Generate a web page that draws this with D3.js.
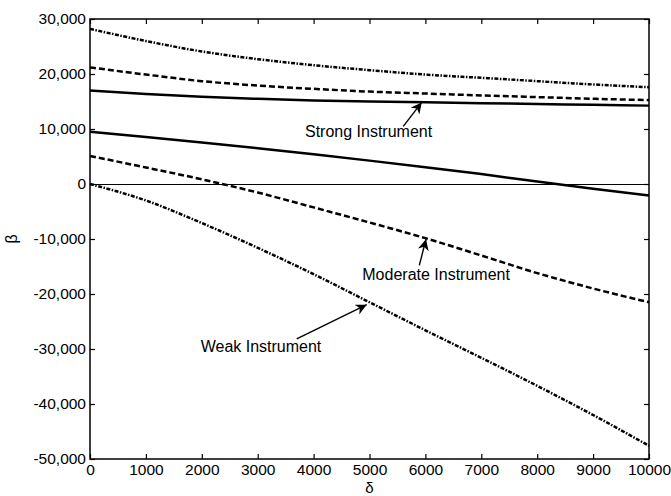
<!DOCTYPE html>
<html>
<head>
<meta charset="utf-8">
<script src="https://cdn.jsdelivr.net/npm/d3@7"></script>
<style>
  body { margin: 0; background: #fff; }
  text { font-family: "Liberation Sans", Arial, sans-serif; fill: #000; }
</style>
</head>
<body>
<script>
// delta values on the x axis
const delta = [0, 1000, 2000, 3000, 4000, 5000, 6000, 7000, 8000, 9000, 10000]

// beta bounds for each instrument strength (upper and lower)
const weakUpper = [28200, 26000, 24100, 22700, 21600, 20700, 19900, 19300, 18700, 18100, 17600]
const moderateUpper = [21200, 19900, 18700, 17900, 17300, 16800, 16450, 16100, 15800, 15500, 15250]
const strongUpper = [17000, 16350, 15850, 15500, 15200, 15000, 14850, 14700, 14550, 14400, 14250]
const strongLower = [9500, 8550, 7550, 6500, 5400, 4250, 3050, 1800, 450, -850, -2100]
const moderateLower = [5100, 3000, 850, -1550, -4250, -7000, -9850, -13000, -16200, -19000, -21500]
const weakLower = [0, -3000, -7100, -11600, -16400, -21500, -26600, -31600, -36700, -42000, -47600]

const xTicks = [0, 1000, 2000, 3000, 4000, 5000, 6000, 7000, 8000, 9000, 10000]
const yTicks = [-50000, -40000, -30000, -20000, -10000, 0, 10000, 20000, 30000]
const yTickLabels = ['-50,000', '-40,000', '-30,000', '-20,000', '-10,000', '0', '10,000', '20,000', '30,000']

const series = [
  { values: weakUpper, dash: '4,1.5,1.5,1.5' },
  { values: moderateUpper, dash: '6,3' },
  { values: strongUpper, dash: null },
  { values: strongLower, dash: null },
  { values: moderateLower, dash: '6,3' },
  { values: weakLower, dash: '4,1.5,1.5,1.5' }
]

// labels: text anchor and arrow from/to, in data units
const notes = [
  { text: 'Strong Instrument', at: [3846, 8470], from: [5604, 10470], to: [5934, 14835] },
  { text: 'Moderate Instrument', at: [4871, -17450], from: [5891, -14800], to: [6011, -10040] },
  { text: 'Weak Instrument', at: [1980, -30490], from: [3698, -28180], to: [4950, -21950] }
]

const width = 671, height = 496
const margin = { left: 90, right: 22, top: 19, bottom: 37 }
const w = width - margin.left - margin.right
const h = height - margin.top - margin.bottom

const svg = d3.select('body').append('svg').attr('width', width).attr('height', height)

svg.append('defs').append('marker')
  .attr('id', 'arrow')
  .attr('viewBox', '0 0 10 10')
  .attr('refX', 10).attr('refY', 5)
  .attr('markerWidth', 11).attr('markerHeight', 11)
  .attr('markerUnits', 'userSpaceOnUse')
  .attr('orient', 'auto')
  .append('path').attr('d', 'M0,0 L10,5 L0,10 L3,5 Z').attr('fill', '#000')

const x = d3.scaleLinear().domain([0, 10000]).range([0, w])
const y = d3.scaleLinear().domain([-50000, 30000]).range([h, 0])

const g = svg.append('g').attr('transform', `translate(${margin.left},${margin.top})`)

// zero line
g.append('line')
  .attr('x1', x(0)).attr('x2', x(10000))
  .attr('y1', y(0) + 0.5).attr('y2', y(0) + 0.5)
  .attr('stroke', '#000').attr('stroke-width', 1)

const line = d3.line()
  .x((d, i) => x(delta[i]))
  .y(d => y(d))
  .curve(d3.curveMonotoneX)

g.selectAll('.curve')
  .data(series)
  .enter().append('path')
  .attr('class', 'curve')
  .attr('d', d => line(d.values))
  .attr('fill', 'none')
  .attr('stroke', '#000')
  .attr('stroke-width', 2.5)
  .attr('stroke-dasharray', d => d.dash)

// axes with inward ticks
const xAxis = d3.axisBottom(x).tickValues(xTicks).tickFormat(d3.format('d'))
  .tickSizeInner(-5).tickSizeOuter(0).tickPadding(5)
const yAxis = d3.axisLeft(y).tickValues(yTicks).tickFormat((d, i) => yTickLabels[i])
  .tickSizeInner(-5).tickSizeOuter(0).tickPadding(4)

g.append('g').attr('transform', `translate(0,${h})`).call(xAxis)
g.append('g').call(yAxis)
g.append('g').call(d3.axisTop(x).tickValues(xTicks).tickFormat('').tickSizeInner(-5).tickSizeOuter(0))
g.append('g').attr('transform', `translate(${w},0)`)
  .call(d3.axisRight(y).tickValues(yTicks).tickFormat('').tickSizeInner(-5).tickSizeOuter(0))

g.selectAll('.domain').remove()
g.selectAll('.tick line').attr('stroke', '#000').attr('stroke-width', 1.2)
g.selectAll('.tick text').style('font-size', '15.5px').attr('fill', '#000')

g.append('rect')
  .attr('width', w).attr('height', h)
  .attr('fill', 'none').attr('stroke', '#000').attr('stroke-width', 1.5)

// annotations
notes.forEach(n => {
  g.append('text')
    .attr('x', x(n.at[0])).attr('y', y(n.at[1]))
    .style('font-size', '16px')
    .text(n.text)
  g.append('line')
    .attr('x1', x(n.from[0])).attr('y1', y(n.from[1]))
    .attr('x2', x(n.to[0])).attr('y2', y(n.to[1]))
    .attr('stroke', '#000').attr('stroke-width', 1.4)
    .attr('marker-end', 'url(#arrow)')
})

// axis titles
svg.append('text')
  .attr('x', margin.left + w / 2).attr('y', 492.5)
  .attr('text-anchor', 'middle')
  .style('font-size', '15px')
  .text('δ')

svg.append('text')
  .attr('transform', `translate(17,${margin.top + h / 2}) rotate(-90)`)
  .attr('text-anchor', 'middle')
  .style('font-size', '16px')
  .text('β')
</script>
</body>
</html>
